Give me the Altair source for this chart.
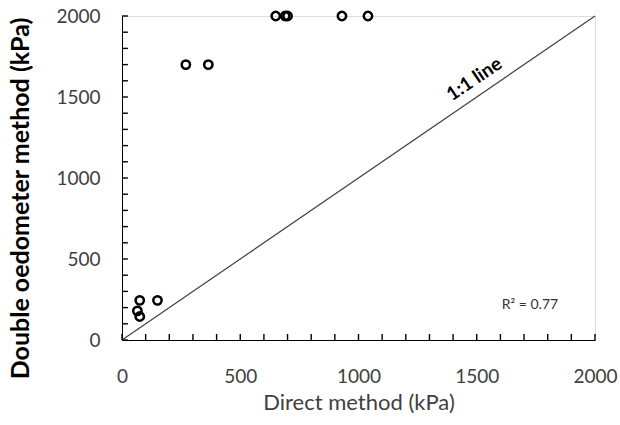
import altair as alt
import pandas as pd

# data
direct = [650, 690, 700, 930, 1040, 270, 365, 75, 150, 65, 75]
double = [2000, 2000, 2000, 2000, 2000, 1700, 1700, 245, 245, 180, 145]
line_x = [0, 2000]
line_y = [0, 2000]
tick_vals = list(range(0, 2001, 100))
label_vals = [0, 500, 1000, 1500, 2000]
ann_text = ["1:1 line", "R\u00b2 = 0.77"]
ann_x = [1490, 1725]
ann_y = [1610, 216]

FONT = "Lato"
W, H = 473, 324

pts = pd.DataFrame({"x": direct, "y": double})
ln = pd.DataFrame({"x": line_x, "y": line_y})
# tick segments: start on the axis (0) and reach ~6 px into the plot
tick_data = alt.Data(values=[{"v": v, "z": 0, "ylen": 37, "xlen": 25} for v in tick_vals])

xs = alt.Scale(domain=[0, 2000], nice=False)
ys = alt.Scale(domain=[0, 2000], nice=False)

xaxis = alt.Axis(values=label_vals, format="d", grid=False, tickSize=0, domainColor="black",
                 labelFont=FONT, labelFontSize=19, labelColor="#404040", labelPadding=27,
                 labelFlush=False,
                 title="Direct method (kPa)", titleFont=FONT, titleFontSize=22,
                 titleFontWeight="normal", titleColor="#404040", titlePadding=6)
yaxis = alt.Axis(values=label_vals, format="d", grid=False, tickSize=0, domainColor="black",
                 labelFont=FONT, labelFontSize=19, labelColor="#404040", labelPadding=22,
                 labelFlush=False,
                 title="Double oedometer method (kPa)", titleFont=FONT, titleFontSize=25,
                 titleFontWeight="bold", titleColor="black",
                 titleAngle=270, titleX=-102, titleY=182, titleAlign="center",
                 titleBaseline="middle")

points = alt.Chart(pts).mark_point(shape="circle", filled=False, color="black",
                                   strokeWidth=2.5, size=70, opacity=1).encode(
    x=alt.X("x:Q", scale=xs, axis=xaxis),
    y=alt.Y("y:Q", scale=ys, axis=yaxis),
)

oneone = alt.Chart(ln).mark_line(color="#404040", strokeWidth=1.2).encode(
    x=alt.X("x:Q", scale=xs), y=alt.Y("y:Q", scale=ys))

# inward tick marks (every 100 kPa)
xt = alt.Chart(tick_data).mark_rule(color="#000000", strokeWidth=1.4, opacity=1).encode(
    x=alt.X("v:Q", scale=xs), y=alt.Y("z:Q", scale=ys), y2="ylen:Q")
yt = alt.Chart(tick_data).mark_rule(color="#000000", strokeWidth=1.4, opacity=1).encode(
    y=alt.Y("v:Q", scale=ys), x=alt.X("z:Q", scale=xs), x2="xlen:Q")

ann1 = alt.Chart(pd.DataFrame({"t": ann_text[:1], "x": ann_x[:1], "y": ann_y[:1]})).mark_text(
    font=FONT, fontSize=19, fontWeight="bold", angle=326, color="black",
    align="center", baseline="middle").encode(
    x=alt.X("x:Q", scale=xs), y=alt.Y("y:Q", scale=ys), text="t:N")
ann2 = alt.Chart(pd.DataFrame({"t": ann_text[1:], "x": ann_x[1:], "y": ann_y[1:]})).mark_text(
    font=FONT, fontSize=14, color="#333333",
    align="center", baseline="middle").encode(
    x=alt.X("x:Q", scale=xs), y=alt.Y("y:Q", scale=ys), text="t:N")

chart = alt.layer(oneone, points, ann1, ann2, xt, yt).properties(
    width=W, height=H,
    autosize=alt.AutoSizeParams(type="none"),
    padding={"left": 122, "top": 16, "right": 25, "bottom": 85},
).configure_view(stroke="black", strokeWidth=1.2).configure(background="white")

chart.save("out.html", embed_options={"renderer": "svg", "actions": False})
